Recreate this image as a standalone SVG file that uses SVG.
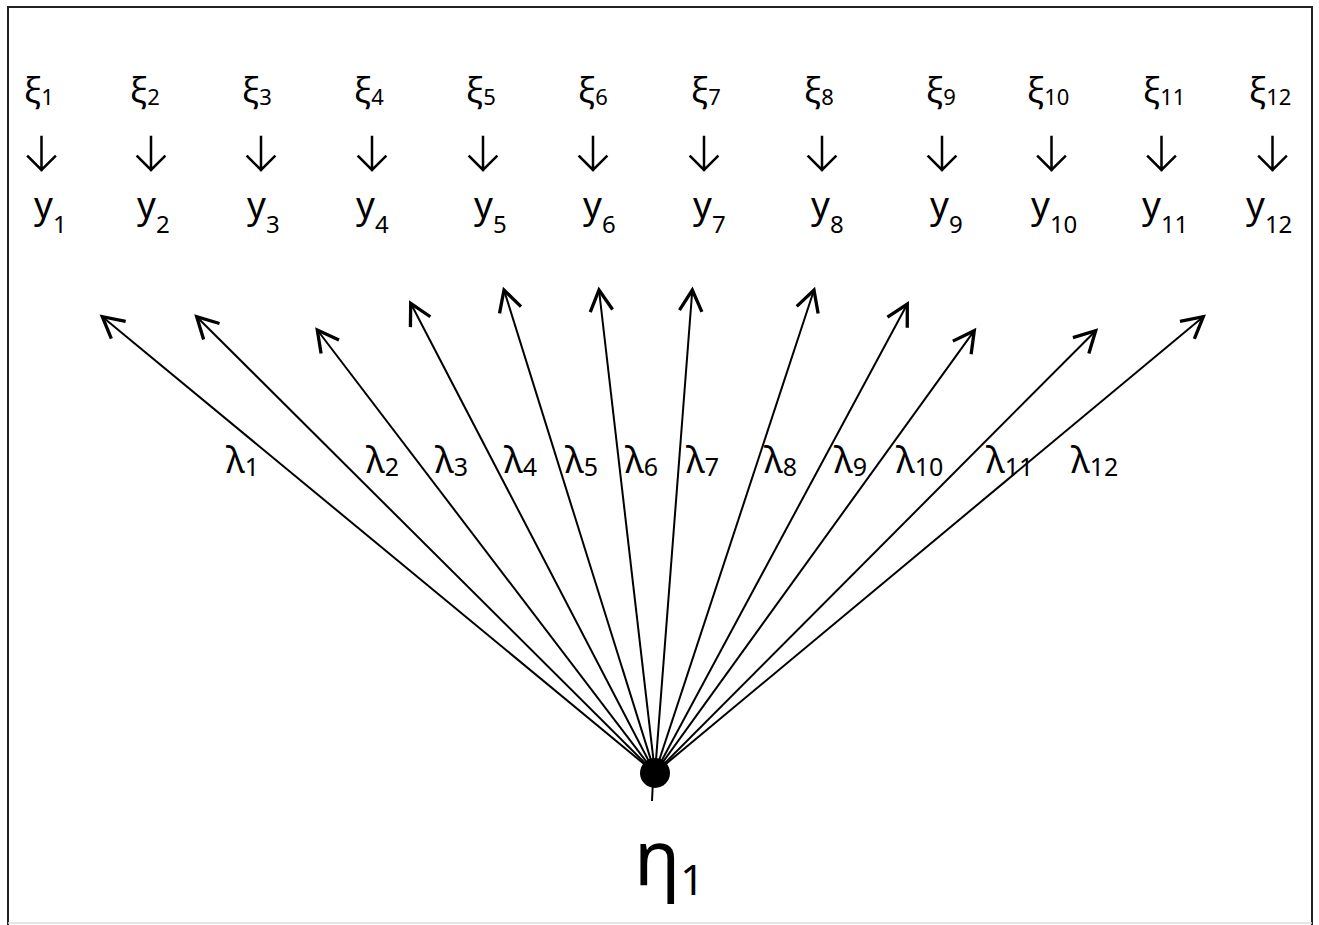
<svg xmlns="http://www.w3.org/2000/svg" width="1319" height="925" viewBox="0 0 1319 925">
<style>
text{font-family:"Noto Sans","Open Sans","DejaVu Sans",sans-serif;fill:#000}
.xi{font-size:35px}
.xs{font-size:22px}
.y{font-size:37px}
.ys{font-size:24px}
.lam{font-size:36px}
.ls{font-size:25px}
.eta{font-size:76px}
.es{font-size:42px}
.fan{stroke:#000;stroke-width:2;fill:none;marker-end:url(#head)}
.down{stroke:#000;stroke-width:2.5;fill:none;stroke-linecap:square}
</style>
<defs>
<marker id="head" markerUnits="userSpaceOnUse" markerWidth="30" markerHeight="30" viewBox="-16 -10 20 20" refX="0" refY="0" orient="auto">
<path d="M-14,-7.5 L0,0 L-14,7.5" fill="none" stroke="#000" stroke-width="2.2"/>
</marker>
</defs>
<rect width="1319" height="925" fill="#fff"/>
<path d="M8,925 V7 H1312 V925" fill="none" stroke="#222" stroke-width="2"/>
<line x1="8" y1="923" x2="1312" y2="923" stroke="#ddd" stroke-width="1.5"/>

<g id="xi-labels">
<text id="xi1" class="xi" x="24" y="102">ξ<tspan class="xs" dy="3">1</tspan></text>
<text id="xi2" class="xi" x="130" y="102">ξ<tspan class="xs" dy="3">2</tspan></text>
<text id="xi3" class="xi" x="242" y="102">ξ<tspan class="xs" dy="3">3</tspan></text>
<text id="xi4" class="xi" x="354" y="102">ξ<tspan class="xs" dy="3">4</tspan></text>
<text id="xi5" class="xi" x="466" y="102">ξ<tspan class="xs" dy="3">5</tspan></text>
<text id="xi6" class="xi" x="578" y="102">ξ<tspan class="xs" dy="3">6</tspan></text>
<text id="xi7" class="xi" x="691" y="102">ξ<tspan class="xs" dy="3">7</tspan></text>
<text id="xi8" class="xi" x="804" y="102">ξ<tspan class="xs" dy="3">8</tspan></text>
<text id="xi9" class="xi" x="926" y="102">ξ<tspan class="xs" dy="3">9</tspan></text>
<text id="xi10" class="xi" x="1027" y="102">ξ<tspan class="xs" dy="3">10</tspan></text>
<text id="xi11" class="xi" x="1143" y="102">ξ<tspan class="xs" dy="3">11</tspan></text>
<text id="xi12" class="xi" x="1249" y="102">ξ<tspan class="xs" dy="3">12</tspan></text>
</g>

<g id="y-labels">
<text id="y1" class="y" x="34" y="218">y<tspan class="ys" dy="15">1</tspan></text>
<text id="y2" class="y" x="137" y="218">y<tspan class="ys" dy="15">2</tspan></text>
<text id="y3" class="y" x="247" y="218">y<tspan class="ys" dy="15">3</tspan></text>
<text id="y4" class="y" x="356" y="218">y<tspan class="ys" dy="15">4</tspan></text>
<text id="y5" class="y" x="474" y="218">y<tspan class="ys" dy="15">5</tspan></text>
<text id="y6" class="y" x="583" y="218">y<tspan class="ys" dy="15">6</tspan></text>
<text id="y7" class="y" x="693" y="218">y<tspan class="ys" dy="15">7</tspan></text>
<text id="y8" class="y" x="811" y="218">y<tspan class="ys" dy="15">8</tspan></text>
<text id="y9" class="y" x="930" y="218">y<tspan class="ys" dy="15">9</tspan></text>
<text id="y10" class="y" x="1031" y="218">y<tspan class="ys" dy="15">10</tspan></text>
<text id="y11" class="y" x="1142" y="218">y<tspan class="ys" dy="15">11</tspan></text>
<text id="y12" class="y" x="1246" y="218">y<tspan class="ys" dy="15">12</tspan></text>
</g>

<g id="lambda-labels">
<text class="lam" x="226" y="473">λ<tspan class="ls" dy="3">1</tspan></text>
<text class="lam" x="366" y="473">λ<tspan class="ls" dy="3">2</tspan></text>
<text class="lam" x="435" y="473">λ<tspan class="ls" dy="3">3</tspan></text>
<text class="lam" x="504" y="473">λ<tspan class="ls" dy="3">4</tspan></text>
<text class="lam" x="565" y="473">λ<tspan class="ls" dy="3">5</tspan></text>
<text class="lam" x="625" y="473">λ<tspan class="ls" dy="3">6</tspan></text>
<text class="lam" x="686" y="473">λ<tspan class="ls" dy="3">7</tspan></text>
<text class="lam" x="764" y="473">λ<tspan class="ls" dy="3">8</tspan></text>
<text class="lam" x="834" y="473">λ<tspan class="ls" dy="3">9</tspan></text>
<text class="lam" x="896" y="473">λ<tspan class="ls" dy="3">10</tspan></text>
<text class="lam" x="986" y="473">λ<tspan class="ls" dy="3">11</tspan></text>
<text class="lam" x="1071" y="473">λ<tspan class="ls" dy="3">12</tspan></text>
</g>

<g id="connectors">
<path class="down" d="M41.5,137 V170 M28,156.5 L41.5,170 L55,156.5"/>
<path class="down" d="M151,137 V170 M137.5,156.5 L151,170 L164.5,156.5"/>
<path class="down" d="M261,137 V170 M247.5,156.5 L261,170 L274.5,156.5"/>
<path class="down" d="M372,137 V170 M358.5,156.5 L372,170 L385.5,156.5"/>
<path class="down" d="M483,137 V170 M469.5,156.5 L483,170 L496.5,156.5"/>
<path class="down" d="M593,137 V170 M579.5,156.5 L593,170 L606.5,156.5"/>
<path class="down" d="M704,137 V170 M690.5,156.5 L704,170 L717.5,156.5"/>
<path class="down" d="M822,137 V170 M808.5,156.5 L822,170 L835.5,156.5"/>
<path class="down" d="M942,137 V170 M928.5,156.5 L942,170 L955.5,156.5"/>
<path class="down" d="M1051.5,137 V170 M1038,156.5 L1051.5,170 L1065,156.5"/>
<path class="down" d="M1161.5,137 V170 M1148,156.5 L1161.5,170 L1175,156.5"/>
<path class="down" d="M1272.5,137 V170 M1259,156.5 L1272.5,170 L1286,156.5"/>

<line class="fan" x1="655" y1="773" x2="102.3" y2="316.7"/>
<line class="fan" x1="655" y1="773" x2="196.7" y2="316.7"/>
<line class="fan" x1="655" y1="773" x2="317.3" y2="330"/>
<line class="fan" x1="655" y1="773" x2="410.7" y2="303.3"/>
<line class="fan" x1="655" y1="773" x2="504" y2="290"/>
<line class="fan" x1="655" y1="773" x2="599" y2="290"/>
<line class="fan" x1="655" y1="773" x2="692.3" y2="290"/>
<line class="fan" x1="655" y1="773" x2="814" y2="290"/>
<line class="fan" x1="655" y1="773" x2="907.3" y2="304"/>
<line class="fan" x1="655" y1="773" x2="974.3" y2="330.7"/>
<line class="fan" x1="655" y1="773" x2="1095.7" y2="330.7"/>
<line class="fan" x1="655" y1="773" x2="1203.3" y2="316.7"/>
<line x1="653" y1="780" x2="652" y2="801" stroke="#000" stroke-width="2"/>
</g>

<g id="eta1">
<circle cx="655" cy="773" r="15" fill="#000"/>
<text class="eta" x="634" y="886">η<tspan class="es" dy="9">1</tspan></text>
</g>
</svg>
